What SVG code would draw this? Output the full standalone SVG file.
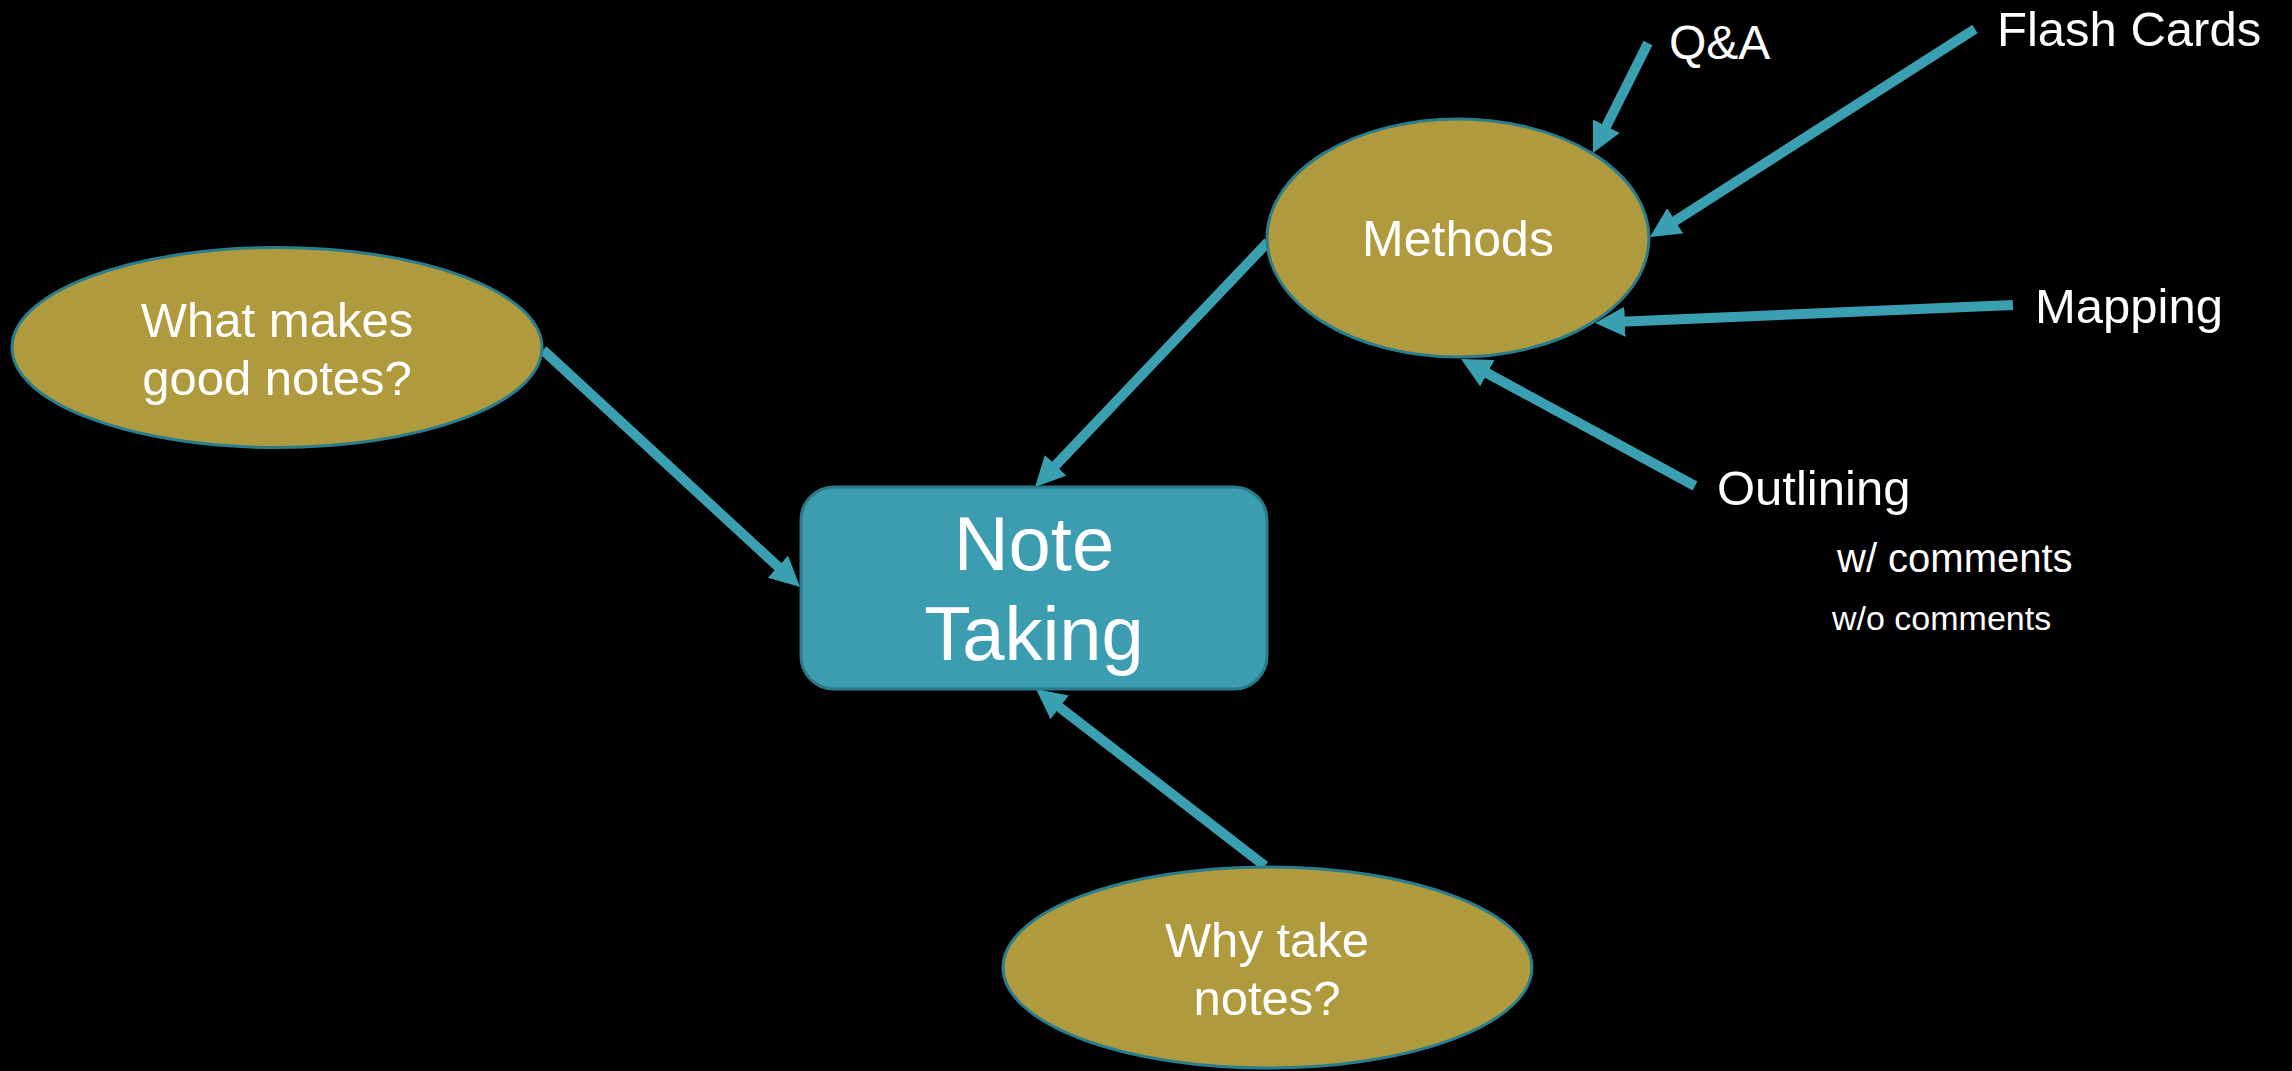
<svg xmlns="http://www.w3.org/2000/svg" width="2292" height="1071" viewBox="0 0 2292 1071">
  <style>
    .bg { fill: #000000; }
    .oval { fill: #b09a3e; stroke: #2a7d8c; stroke-width: 3; }
    .box { fill: #3c9db0; stroke: #2a7a89; stroke-width: 3; }
    .lbl { font-family: "Liberation Sans", Arial, Helvetica, sans-serif; fill: #ffffff; }
    .mid { text-anchor: middle; }
    .conn { stroke: #3b9fb2; stroke-width: 10; fill: none; stroke-linecap: butt; marker-end: url(#head); }
  </style>
  <defs>
    <marker id="head" markerUnits="userSpaceOnUse" markerWidth="30" markerHeight="30" viewBox="0 0 30 30" refX="10" refY="15" orient="auto">
      <path d="M0,0 L30,15 L0,30 z" fill="#3b9fb2"/>
    </marker>
  </defs>
  <rect class="bg" x="0" y="0" width="2292" height="1071"/>

  <g id="connectors">
    <line class="conn" x1="543" y1="350" x2="785.3" y2="573.4"/>
    <line class="conn" x1="1268" y1="242" x2="1048.8" y2="472.5"/>
    <line class="conn" x1="1265" y1="866" x2="1051.8" y2="701.2"/>
    <line class="conn" x1="1648" y1="43" x2="1601.9" y2="135.1"/>
    <line class="conn" x1="1975" y1="29" x2="1666.8" y2="226.2"/>
    <line class="conn" x1="2013" y1="305" x2="1615" y2="322.1"/>
    <line class="conn" x1="1695" y1="486" x2="1478.6" y2="368.5"/>
  </g>

  <g id="note-taking">
    <rect class="box" x="801" y="487" width="466" height="202" rx="33" ry="33"/>
    <text class="lbl mid" x="1034" y="570" font-size="76">Note</text>
    <text class="lbl mid" x="1034" y="660" font-size="76">Taking</text>
  </g>

  <g id="methods">
    <ellipse class="oval" cx="1458" cy="238" rx="191" ry="119"/>
    <text class="lbl mid" x="1458" y="256" font-size="50">Methods</text>
  </g>

  <g id="what-makes">
    <ellipse class="oval" cx="277" cy="347.5" rx="265" ry="100"/>
    <text class="lbl mid" x="277" y="337" font-size="49">What makes</text>
    <text class="lbl mid" x="277" y="395" font-size="49">good notes?</text>
  </g>

  <g id="why-take">
    <ellipse class="oval" cx="1267.5" cy="967.5" rx="264.5" ry="100.5"/>
    <text class="lbl mid" x="1267" y="957" font-size="49">Why take</text>
    <text class="lbl mid" x="1267" y="1015" font-size="49">notes?</text>
  </g>

  <g id="qa">
    <text class="lbl" x="1669" y="59" font-size="48">Q&amp;A</text>
  </g>
  <g id="flash-cards">
    <text class="lbl" x="1997" y="46" font-size="49">Flash Cards</text>
  </g>
  <g id="mapping">
    <text class="lbl" x="2035" y="323" font-size="49">Mapping</text>
  </g>
  <g id="outlining">
    <text class="lbl" x="1717" y="505" font-size="49">Outlining</text>
    <text class="lbl" x="1837" y="572" font-size="40">w/ comments</text>
    <text class="lbl" x="1832" y="630" font-size="34">w/o comments</text>
  </g>
</svg>
